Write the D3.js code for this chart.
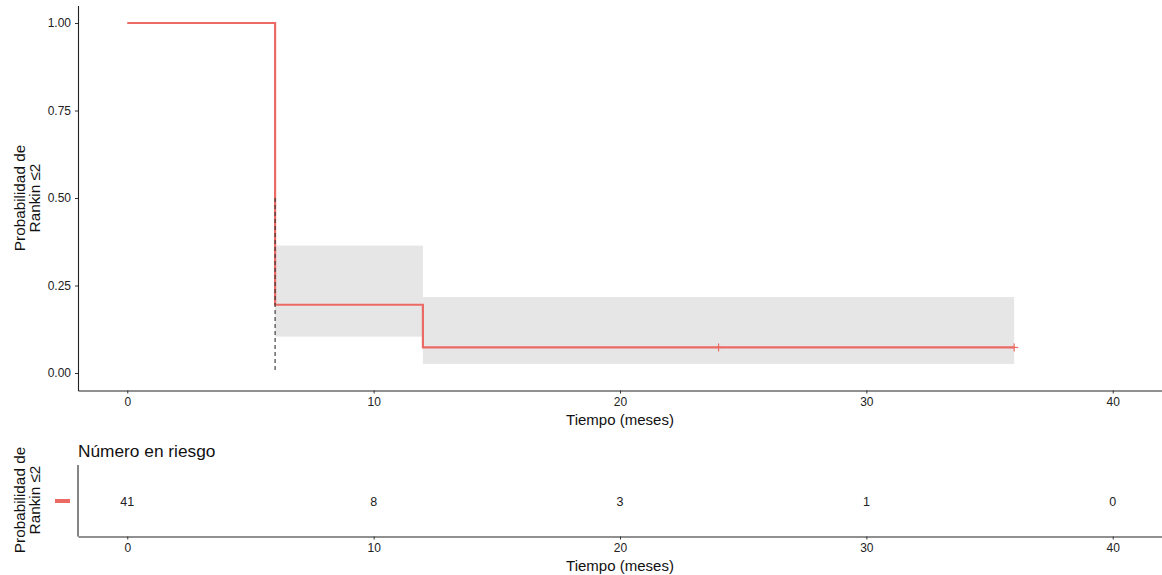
<!DOCTYPE html>
<html>
<head>
<meta charset="utf-8">
<script src="https://cdn.jsdelivr.net/npm/d3@7"></script>
<style>
  body { margin: 0; background: #fff; }
  text { font-family: "Liberation Sans", Arial, sans-serif; }
</style>
</head>
<body>
<div id="chart"></div>
<script>
// Kaplan-Meier estimate
const stepTimes = [0, 6, 12, 36];
const survival = [1.0, 0.195, 0.073, 0.073];
const ciUpper = [1.0, 0.364, 0.217, 0.217];
const ciLower = [1.0, 0.104, 0.026, 0.026];
const censorTimes = [24, 36];
const medianTime = 6;

// risk table
const riskTimes = [0, 10, 20, 30, 40];
const riskCounts = [41, 8, 3, 1, 0];

const xTicks = [0, 10, 20, 30, 40];
const yTicks = [0, 0.25, 0.5, 0.75, 1];

const W = 1162, H = 575;
const red = "#ec6a64";

const svg = d3.select("#chart").append("svg")
    .attr("width", W).attr("height", H);

const x = d3.scaleLinear().domain([-2, 42]).range([78, 1162]);
const y = d3.scaleLinear().domain([-0.05, 1.05]).range([390.5, 5.5]);

// confidence band (step shaped)
const band = [];
for (let i = 1; i < stepTimes.length - 1; i++) {
    band.push({ t0: stepTimes[i], t1: stepTimes[i + 1], lo: ciLower[i], hi: ciUpper[i] });
}
svg.append("g").selectAll("rect").data(band).enter().append("rect")
    .attr("x", d => x(d.t0))
    .attr("width", d => x(d.t1) - x(d.t0))
    .attr("y", d => y(d.hi))
    .attr("height", d => y(d.lo) - y(d.hi))
    .attr("fill", "#e6e6e6");

// survival curve
const pts = stepTimes.map((t, i) => [t, survival[i]]);
svg.append("path")
    .datum(pts)
    .attr("d", d3.line().x(d => x(d[0])).y(d => y(d[1])).curve(d3.curveStepAfter))
    .attr("fill", "none")
    .attr("stroke", red)
    .attr("stroke-width", 2.2);

// median line (on top of the curve)
svg.append("line")
    .attr("x1", x(medianTime)).attr("x2", x(medianTime))
    .attr("y1", y(0.5)).attr("y2", y(0))
    .attr("stroke", "#333").attr("stroke-width", 1.1)
    .attr("stroke-dasharray", "4,3");

// censor marks
const survAt = t => { let s = survival[0]; stepTimes.forEach((st, i) => { if (st <= t) s = survival[i]; }); return s; };
const cg = svg.append("g");
censorTimes.forEach(t => {
    cg.append("line").attr("x1", x(t) - 4).attr("x2", x(t) + 4)
        .attr("y1", y(survAt(t))).attr("y2", y(survAt(t)))
        .attr("stroke", red).attr("stroke-width", 1.2);
    cg.append("line").attr("x1", x(t)).attr("x2", x(t))
        .attr("y1", y(survAt(t)) - 4).attr("y2", y(survAt(t)) + 4)
        .attr("stroke", red).attr("stroke-width", 1.2);
});

function styleAxis(g) {
    g.select(".domain").attr("stroke", "#222").attr("stroke-width", 1.1);
    g.selectAll(".tick line").attr("stroke", "#333");
    g.selectAll(".tick text").attr("fill", "#222").style("font-size", "12px")
        .style("font-family", "'Liberation Sans', Arial, sans-serif");
}

// axes main
svg.append("g").attr("transform", "translate(0,390.5)")
    .call(d3.axisBottom(x).tickValues(xTicks).tickSize(3).tickSizeOuter(0).tickPadding(4))
    .call(styleAxis);
svg.append("g").attr("transform", "translate(78,0)")
    .call(d3.axisLeft(y).tickValues(yTicks).tickFormat(d3.format(".2f")).tickSize(3).tickSizeOuter(0).tickPadding(4))
    .call(styleAxis);

svg.append("text").attr("x", (x(-2) + x(42)) / 2).attr("y", 425)
    .attr("text-anchor", "middle").style("font-size", "15px").attr("fill", "#111")
    .text("Tiempo (meses)");

function yLabel(cy) {
    const t = svg.append("text")
        .attr("transform", `translate(25,${cy}) rotate(-90)`)
        .attr("text-anchor", "middle").style("font-size", "15.3px").attr("fill", "#111");
    t.append("tspan").attr("x", 0).attr("dy", 0).text("Probabilidad de");
    t.append("tspan").attr("x", 0).attr("dy", 15).text("Rankin ≤2");
}
yLabel(198);

// risk table
const xr = d3.scaleLinear().domain([-2, 42]).range([78, 1162]);
const rowY = 501;

svg.append("text").attr("x", 78).attr("y", 457)
    .style("font-size", "17.3px").attr("fill", "#111")
    .text("Número en riesgo");

svg.append("g").selectAll("text").data(riskCounts).enter().append("text")
    .attr("x", (d, i) => xr(riskTimes[i]))
    .attr("y", rowY + 4.5)
    .attr("text-anchor", "middle")
    .style("font-size", "12.5px").attr("fill", "#222")
    .text(d => d);

svg.append("line").attr("x1", 78).attr("x2", 78).attr("y1", 465).attr("y2", 536.5)
    .attr("stroke", "#222").attr("stroke-width", 1.1);
svg.append("g").attr("transform", "translate(0,536.5)")
    .call(d3.axisBottom(xr).tickValues(xTicks).tickSize(3).tickSizeOuter(0).tickPadding(4))
    .call(styleAxis);
svg.append("line").attr("x1", 55).attr("x2", 70).attr("y1", rowY).attr("y2", rowY)
    .attr("stroke", red).attr("stroke-width", 4);

svg.append("text").attr("x", (xr(-2) + xr(42)) / 2).attr("y", 571)
    .attr("text-anchor", "middle").style("font-size", "15px").attr("fill", "#111")
    .text("Tiempo (meses)");
yLabel(500);
</script>
</body>
</html>
